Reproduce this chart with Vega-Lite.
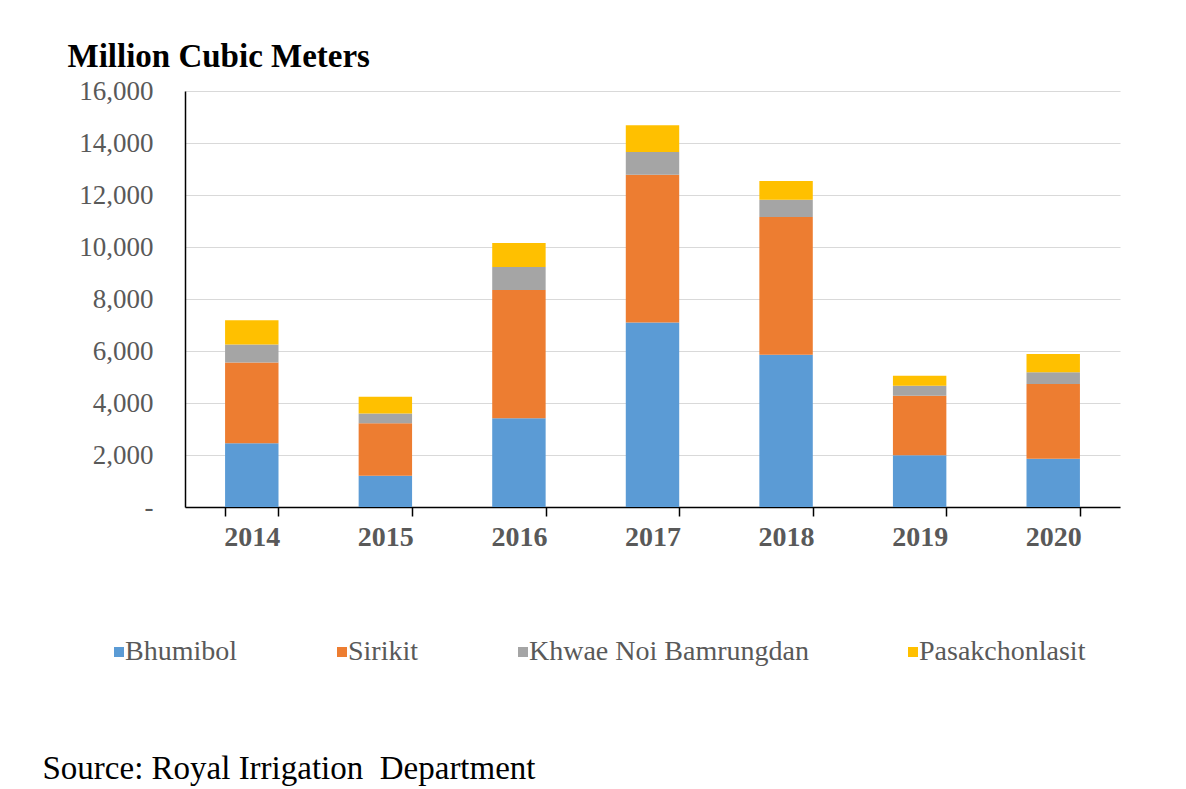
{
  "$schema": "https://vega.github.io/schema/vega-lite/v6.json",
  "autosize": {"type": "none"},
  "width": 935,
  "height": 416,
  "padding": {"left": 185, "top": 91, "right": 66, "bottom": 282},
  "background": "white",
  "data": {
    "values": [
      {"year": "2014", "dam": "Bhumibol", "k": 1, "value": 2450},
      {"year": "2014", "dam": "Sirikit", "k": 2, "value": 3110},
      {"year": "2014", "dam": "Khwae Noi Bamrungdan", "k": 3, "value": 690},
      {"year": "2014", "dam": "Pasakchonlasit", "k": 4, "value": 930},
      {"year": "2015", "dam": "Bhumibol", "k": 1, "value": 1200},
      {"year": "2015", "dam": "Sirikit", "k": 2, "value": 2020},
      {"year": "2015", "dam": "Khwae Noi Bamrungdan", "k": 3, "value": 380},
      {"year": "2015", "dam": "Pasakchonlasit", "k": 4, "value": 640},
      {"year": "2016", "dam": "Bhumibol", "k": 1, "value": 3410},
      {"year": "2016", "dam": "Sirikit", "k": 2, "value": 4940},
      {"year": "2016", "dam": "Khwae Noi Bamrungdan", "k": 3, "value": 880},
      {"year": "2016", "dam": "Pasakchonlasit", "k": 4, "value": 920},
      {"year": "2017", "dam": "Bhumibol", "k": 1, "value": 7100},
      {"year": "2017", "dam": "Sirikit", "k": 2, "value": 5680},
      {"year": "2017", "dam": "Khwae Noi Bamrungdan", "k": 3, "value": 870},
      {"year": "2017", "dam": "Pasakchonlasit", "k": 4, "value": 1030},
      {"year": "2018", "dam": "Bhumibol", "k": 1, "value": 5860},
      {"year": "2018", "dam": "Sirikit", "k": 2, "value": 5290},
      {"year": "2018", "dam": "Khwae Noi Bamrungdan", "k": 3, "value": 670},
      {"year": "2018", "dam": "Pasakchonlasit", "k": 4, "value": 720},
      {"year": "2019", "dam": "Bhumibol", "k": 1, "value": 1990},
      {"year": "2019", "dam": "Sirikit", "k": 2, "value": 2290},
      {"year": "2019", "dam": "Khwae Noi Bamrungdan", "k": 3, "value": 380},
      {"year": "2019", "dam": "Pasakchonlasit", "k": 4, "value": 390},
      {"year": "2020", "dam": "Bhumibol", "k": 1, "value": 1860},
      {"year": "2020", "dam": "Sirikit", "k": 2, "value": 2870},
      {"year": "2020", "dam": "Khwae Noi Bamrungdan", "k": 3, "value": 450},
      {"year": "2020", "dam": "Pasakchonlasit", "k": 4, "value": 700}
    ]
  },
  "mark": {"type": "bar"},
  "encoding": {
    "x": {
      "field": "year",
      "type": "ordinal",
      "scale": {"paddingInner": 0.6, "paddingOuter": 0.3},
      "axis": {
        "title": "Source: Royal Irrigation\u00a0 Department",
        "titleX": -143,
        "titleY": 271,
        "titleAlign": "left",
        "titleAnchor": null,
        "titleBaseline": "alphabetic",
        "titleFont": "Liberation Serif",
        "titleFontSize": 33,
        "titleFontWeight": "normal",
        "titleColor": "#000000",
        "labelAngle": 0,
        "labelFont": "Liberation Serif",
        "labelFontSize": 28,
        "labelFontWeight": "bold",
        "labelColor": "#595959",
        "labelPadding": 7,
        "tickBand": "extent",
        "tickSize": 9,
        "tickColor": "#000000",
        "tickWidth": 1.5,
        "domainColor": "#000000",
        "domainWidth": 1.5,
        "grid": false
      }
    },
    "y": {
      "field": "value",
      "type": "quantitative",
      "stack": "zero",
      "scale": {"domain": [0, 16000], "nice": false},
      "axis": {
        "title": "Million Cubic Meters",
        "titleAngle": 0,
        "titleAlign": "left",
        "titleAnchor": null,
        "titleBaseline": "alphabetic",
        "titleX": -118,
        "titleY": -25,
        "titleFont": "Liberation Serif",
        "titleFontSize": 33,
        "titleFontWeight": "bold",
        "titleColor": "#000000",
        "values": [0, 2000, 4000, 6000, 8000, 10000, 12000, 14000, 16000],
        "labelExpr": "datum.value === 0 ? '-' : format(datum.value, ',')",
        "labelFont": "Liberation Serif",
        "labelFontSize": 27,
        "labelColor": "#595959",
        "labelPadding": 32,
        "ticks": false,
        "domainColor": "#000000",
        "domainWidth": 1.5,
        "grid": true,
        "gridColor": "#d9d9d9",
        "gridWidth": 1.2,
        "encode": {
          "labels": {
            "update": {
              "dx": {"signal": "datum.value === 0 ? -13 : 0"}
            }
          }
        }
      }
    },
    "color": {
      "field": "dam",
      "type": "nominal",
      "scale": {
        "domain": ["Bhumibol", "Sirikit", "Khwae Noi Bamrungdan", "Pasakchonlasit"],
        "range": ["#5B9BD5", "#ED7D31", "#A5A5A5", "#FFC000"]
      },
      "legend": {
        "title": null,
        "orient": "none",
        "direction": "horizontal",
        "legendX": -80,
        "legendY": 547,
        "symbolType": "square",
        "symbolSize": 100,
        "symbolStrokeWidth": 0,
        "labelFont": "Liberation Serif",
        "labelFontSize": 28,
        "labelColor": "#595959",
        "labelOffset": -8,
        "labelLimit": 500,
        "columnPadding": 90
      }
    },
    "order": {"field": "k", "type": "quantitative", "sort": "ascending"}
  },
  "config": {
    "font": "Liberation Serif",
    "view": {"stroke": null}
  }
}
